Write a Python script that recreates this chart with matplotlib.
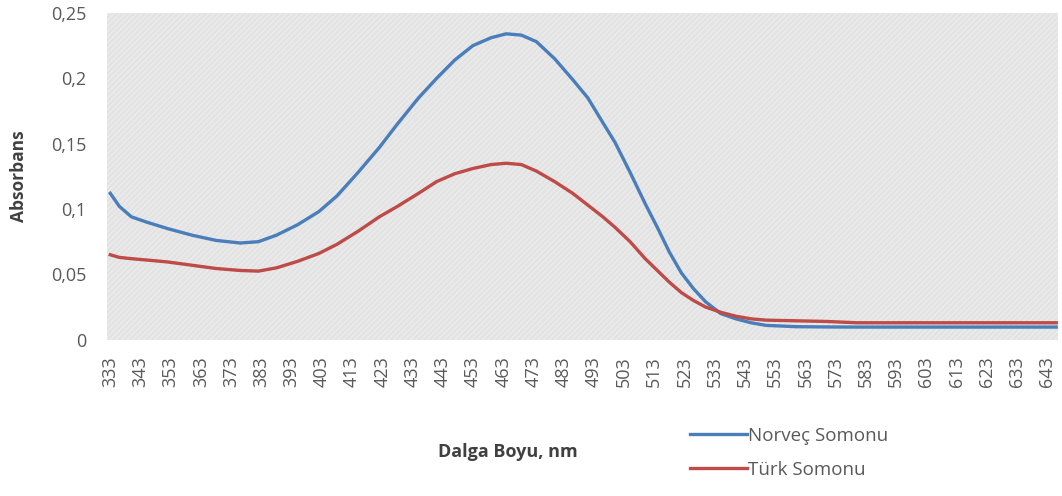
import matplotlib.pyplot as plt
from matplotlib.patches import Rectangle

plt.rcParams['font.family'] = ['Open Sans', 'DejaVu Sans']

wl = [333, 336, 340, 345, 352, 360, 368, 376, 382, 388, 395, 402, 408, 415, 422,
      428, 435, 441, 447, 453, 459, 464, 469, 474, 480, 486, 491, 496, 500, 505,
      510, 514, 518, 522, 526, 530, 535, 540, 545, 550, 560, 570, 580, 600, 620,
      640, 646]
norvec = [0.112, 0.102, 0.094, 0.090, 0.085, 0.080, 0.076, 0.074, 0.075, 0.080,
          0.088, 0.098, 0.110, 0.128, 0.147, 0.165, 0.185, 0.200, 0.214, 0.225,
          0.231, 0.234, 0.233, 0.228, 0.215, 0.199, 0.185, 0.166, 0.151, 0.128,
          0.104, 0.086, 0.067, 0.051, 0.039, 0.029, 0.020, 0.016, 0.013, 0.011,
          0.010, 0.0098, 0.0097, 0.0097, 0.0097, 0.0097, 0.0097]
turk = [0.065, 0.063, 0.062, 0.061, 0.0595, 0.057, 0.0545, 0.053, 0.0525, 0.055,
        0.060, 0.066, 0.073, 0.083, 0.094, 0.102, 0.112, 0.121, 0.127, 0.131,
        0.134, 0.135, 0.134, 0.129, 0.121, 0.112, 0.103, 0.094, 0.086, 0.075,
        0.062, 0.053, 0.044, 0.036, 0.030, 0.025, 0.021, 0.018, 0.016, 0.015,
        0.0145, 0.014, 0.013, 0.013, 0.013, 0.013, 0.013]

xticks = list(range(333, 644, 10))
yticks = [0, 0.05, 0.1, 0.15, 0.2, 0.25]
ylabels = ['0', '0,05', '0,1', '0,15', '0,2', '0,25']

fig = plt.figure(figsize=(10.62, 4.96), dpi=100)
ax = fig.add_axes([0.101, 0.315, 0.895, 0.659])

# hatched grey plot area like the excel one
ax.set_facecolor('#e3e3e3')
ax.add_patch(Rectangle((0, 0), 1, 1, transform=ax.transAxes, facecolor='none',
                       edgecolor='#ececec', hatch='//////', lw=0, zorder=0))

l1, = ax.plot(wl, norvec, color='#4a7ebb', lw=2.4, label='Norveç Somonu')
l2, = ax.plot(wl, turk, color='#be4b48', lw=2.4, label='Türk Somonu')

ax.set_xlim(332, 646.5)
ax.set_ylim(0, 0.25)
ax.set_xticks(xticks)
ax.set_xticklabels([str(v) for v in xticks], rotation=90, color='#595959', fontsize=13)
ax.set_yticks(yticks)
ax.set_yticklabels(ylabels, color='#595959', fontsize=13)
ax.tick_params(axis='y', length=0, pad=15)
ax.tick_params(axis='x', length=0, pad=12)
for s in ax.spines.values():
    s.set_visible(False)

ax.set_ylabel('Absorbans', fontsize=12.5, fontweight='bold', color='#404040')
ax.yaxis.set_label_coords(-0.083, 0.5)
fig.text(0.478, 0.088, 'Dalga Boyu, nm', fontsize=13, fontweight='bold',
         color='#404040', ha='center', va='center')

fig.legend(handles=[l1, l2], loc='center left', bbox_to_anchor=(0.65, 0.087),
           frameon=False, fontsize=13.5, handlelength=3.0, handletextpad=0.1,
           labelspacing=0.85, labelcolor='#595959', borderpad=0, borderaxespad=0)

fig.savefig('out.png', dpi=100)
